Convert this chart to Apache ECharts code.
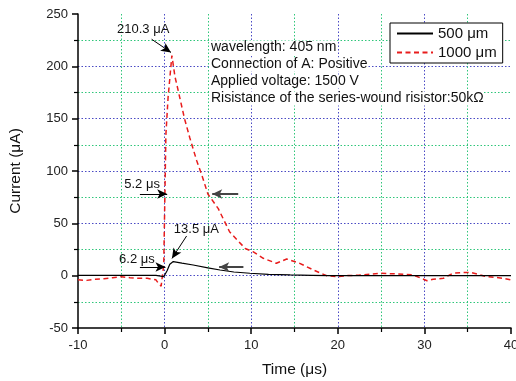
<!DOCTYPE html>
<html>
<head>
<meta charset="utf-8">
<script src="https://cdn.jsdelivr.net/npm/echarts@6/dist/echarts.min.js"></script>
<style>
  html, body { margin: 0; padding: 0; background: #fff; }
  #chart { width: 516px; height: 381px; }
</style>
</head>
<body>
<div id="chart"></div>
<script>
const FONT = '"Liberation Sans", Arial, Helvetica, sans-serif';

// Photocurrent pulse, 1000 µm gap: time (µs) and current (µA)
const time1000 = [-10, -9, -8, -7, -6, -5, -4, -3, -2, -1, -0.7, -0.4, -0.1, 0.15, 0.4, 0.84,
  1.2, 1.4, 2.3, 2.9, 3.7, 4.3, 5.0, 6.2, 7.5, 9.3, 10.2, 11.4, 12.9, 14.1, 15.6, 17.2, 18.7,
  19.9, 21.0, 22.5, 24.0, 24.8, 26.4, 28.7, 30.3, 31.0, 32.2, 33.3, 34.3, 35.3, 36.2, 37.2,
  38.1, 39.1, 40];
const current1000 = [-4, -4.5, -3.5, -3, -2, -1, -2, -2.5, -2.5, -4, -7.5, -10, 10, 135, 170, 210.3,
  190, 183, 150, 132, 110, 96, 78, 64, 42, 26, 23, 16.6, 11.8, 15.9, 11.8, 5.4, 0,
  -1, 0, 0.6, 1.5, 2.3, 1.8, 0.7, -4.8, -3.5, -2.5, 2.3, 2.9, 3.2, 1.3, -1,
  -1.5, -2.5, -4];

// Photocurrent pulse, 500 µm gap
const time500 = [-10, -7, -4, -1, -0.1, 0.3, 0.6, 1.0, 2.0, 3.3, 5.0, 6.4, 8.0, 9.85, 12.0, 14.5,
  17.0, 19.0, 20, 25, 30, 35, 40];
const current500 = [0.3, 0.3, 0.3, 0.2, -1, 5, 11, 13.5, 12, 10.2, 7.5, 5.4, 3.5, 2.3, 1.3, 0.7,
  0.3, 0, 0, 0, 0, 0, 0];

const seriesNames = ['500 μm', '1000 μm'];
const infoLines = [
  'wavelength: 405 nm',
  'Connection of A: Positive',
  'Applied voltage: 1500 V',
  'Risistance of the series-wound risistor:50kΩ'
];

// Peak values and pulse widths quoted on the plot
const peak1000 = { t: 0.84, v: 210.3 };
const peak500 = { t: 1.0, v: 13.5 };
const width1000 = { start: 0.3, level: 78, value: 5.2 };
const width500 = { start: 0.1, level: 8.3, value: 6.2 };

const xRange = { min: -10, max: 40, step: 10 };
const yRange = { min: -50, max: 250, step: 50 };

const pairs = (ts, vs) => ts.map((t, i) => [t, vs[i]]);

const BLUE = '#4a4ac4';
const GREEN = '#2fc67a';

function arrow(from, to, color, width) {
  return [
    { coord: from, symbol: 'none', lineStyle: { color, width, type: 'solid' } },
    { coord: to, symbol: 'arrow', symbolSize: [7, 10] }
  ];
}

function note(text, coord) {
  return {
    coord, value: text, symbol: 'circle', symbolSize: 0,
    label: {
      show: true, position: 'inside', formatter: text,
      fontFamily: FONT, fontSize: 13, color: '#111',
      align: 'center', verticalAlign: 'middle'
    }
  };
}

const chart = echarts.init(document.getElementById('chart'), null, { renderer: 'canvas' });

const axisCommon = {
  axisLine: { show: true, onZero: false, lineStyle: { color: '#000', width: 1.5 } },
  axisTick: { show: true, inside: false, length: 6, lineStyle: { color: '#000', width: 1.5 } },
  minorTick: { show: true, splitNumber: 2, length: 4, lineStyle: { color: '#000', width: 1.2 } },
  splitLine: { show: true, showMinLine: false, showMaxLine: false,
    lineStyle: { color: BLUE, type: [1.5, 2], width: 1 } },
  minorSplitLine: { show: true, lineStyle: { color: GREEN, type: [1.5, 2], width: 1 } },
  nameTextStyle: { fontFamily: FONT, fontSize: 15.5, color: '#111' }
};

chart.setOption({
  animation: false,
  backgroundColor: '#fff',
  grid: { left: 78, right: 5, top: 14, bottom: 53, containLabel: false, outerBoundsMode: 'none' },
  xAxis: Object.assign({}, axisCommon, {
    type: 'value', min: xRange.min, max: xRange.max, interval: xRange.step,
    axisLabel: { fontFamily: FONT, fontSize: 13, color: '#222', margin: 11 },
    name: 'Time (μs)', nameLocation: 'middle', nameGap: 34
  }),
  yAxis: Object.assign({}, axisCommon, {
    type: 'value', min: yRange.min, max: yRange.max, interval: yRange.step,
    axisLabel: { fontFamily: FONT, fontSize: 13, color: '#222', margin: 10 },
    name: 'Current (μA)', nameLocation: 'middle', nameGap: 54, nameRotate: 90
  }),
  legend: {
    data: seriesNames,
    orient: 'vertical', left: 390, top: 23,
    padding: [3, 6, 3, 6], itemGap: 4, itemWidth: 36, itemHeight: 14,
    backgroundColor: '#fff', borderColor: '#000', borderWidth: 1, borderRadius: 0,
    itemStyle: { opacity: 0 },
    textStyle: { fontFamily: FONT, fontSize: 15, color: '#111' },
    z: 10
  },
  graphic: infoLines.map((line, i) => ({
    type: 'text', left: 211, top: 40.5 + i * 17, z: 5,
    style: { text: line, fontFamily: FONT, fontSize: 14, fill: '#111', backgroundColor: '#fff' }
  })),
  series: [
    {
      name: seriesNames[1], type: 'line', data: pairs(time1000, current1000),
      symbol: 'none', smooth: false, z: 3,
      lineStyle: { color: '#e81c1c', width: 1.5, type: [5, 3.5] },
      itemStyle: { color: '#e81c1c' }
    },
    {
      name: seriesNames[0], type: 'line', data: pairs(time500, current500),
      symbol: 'none', smooth: false, z: 4,
      lineStyle: { color: '#000', width: 1.2 },
      itemStyle: { color: '#000' },
      markLine: {
        silent: true, animation: false, label: { show: false },
        emphasis: { disabled: true },
        data: [
          arrow([-1.5, 225.9], [peak1000.t - 0.1, peak1000.v + 3], '#000', 1),
          arrow([2.54, 37.9], [peak500.t - 0.15, peak500.v + 3], '#000', 1),
          arrow([-2.85, width1000.level], [width1000.start, width1000.level], '#000', 1),
          arrow([width1000.start + width1000.value + 3, width1000.level],
                [width1000.start + width1000.value, width1000.level], '#444', 2),
          arrow([-2.85, width500.level], [width500.start, width500.level], '#000', 1),
          arrow([width500.start + width500.value + 2.8, width500.level],
                [width500.start + width500.value, width500.level], '#444', 2)
        ]
      },
      markPoint: {
        silent: true, animation: false,
        data: [
          note(peak1000.v + ' μA', [-2.47, 235.4]),
          note(peak500.v + ' μA', [3.67, 44.6]),
          note(width1000.value + ' μs', [-2.6, 87.5]),
          note(width500.value + ' μs', [-3.2, 15.6])
        ]
      }
    }
  ]
});
</script>
</body>
</html>
